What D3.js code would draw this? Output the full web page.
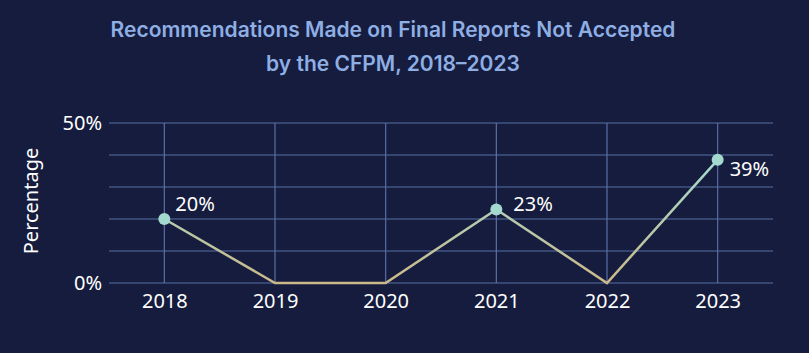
<!DOCTYPE html>
<html><head><meta charset="utf-8">
<script src="https://cdn.jsdelivr.net/npm/d3@7"></script>
<style>
html,body{margin:0;padding:0;background:#151c3d;}
svg{display:block;}
</style></head>
<body><svg id="c" width="809" height="353"></svg>
<script>
const years = ["2018","2019","2020","2021","2022","2023"];
const values = [20, 0, 0, 23, 0, 38.5];
const yTicks = [0, 50];
const gridTicks = [0, 10, 20, 30, 40, 50];
const titleLines = ["Recommendations Made on Final Reports Not Accepted", "by the CFPM, 2018–2023"];

const svg = d3.select("#c");
const W = 809, H = 353;
svg.append("rect").attr("width", W).attr("height", H).attr("fill", "#151c3d");
const m = {l: 109, r: 36, t: 123, b: 70};
const x = d3.scalePoint().domain(years).range([m.l, W - m.r]).padding(0.5);
const y = d3.scaleLinear().domain([0, 50]).range([H - m.b, m.t]);

const font = "'Noto Sans', 'Open Sans', sans-serif";
svg.append("text").attr("x", 393).attr("y", 0)
  .attr("text-anchor", "middle").attr("fill", "#8eaee4")
  .attr("font-family", "Inter, 'Noto Sans', sans-serif").attr("font-weight", 600).attr("font-size", 21)
  .selectAll("tspan").data(titleLines).join("tspan")
  .attr("x", 393).attr("y", (d, i) => 37 + i * 34).text(d => d);

const gc = "#5b6fa6";
const g = svg.append("g");
g.selectAll("line.h").data(gridTicks).join("line").attr("class", "h")
  .attr("x1", m.l).attr("x2", W - m.r).attr("y1", d => y(d)).attr("y2", d => y(d))
  .attr("stroke", gc).attr("stroke-width", 1.2);
g.selectAll("line.v").data(years).join("line").attr("class", "v")
  .attr("x1", d => x(d)).attr("x2", d => x(d)).attr("y1", y(50)).attr("y2", y(0))
  .attr("stroke", gc).attr("stroke-width", 1.2);

const yAxis = d3.axisLeft(y).tickValues(yTicks).tickFormat(d => d + "%").tickSize(0).tickPadding(7);
const ya = svg.append("g").attr("transform", `translate(${m.l},0)`).call(yAxis);
ya.select(".domain").remove();
ya.selectAll("text").attr("fill", "#ffffff").attr("font-size", 20).attr("font-family", font);

const xAxis = d3.axisBottom(x).tickSize(0).tickPadding(11);
const xa = svg.append("g").attr("transform", `translate(0,${y(0)})`).call(xAxis);
xa.select(".domain").remove();
xa.selectAll("text").attr("fill", "#ffffff").attr("font-size", 20).attr("font-family", font);

svg.append("text").attr("transform", `translate(38,${(y(0)+y(50))/2 - 2}) rotate(-90)`)
  .attr("text-anchor", "middle").attr("fill", "#ffffff").attr("font-size", 20)
  .attr("font-family", font).text("Percentage");

const defs = svg.append("defs");
const grad = defs.append("linearGradient").attr("id", "lg")
  .attr("gradientUnits", "userSpaceOnUse").attr("x1", 0).attr("x2", 0)
  .attr("y1", y(0)).attr("y2", y(d3.max(values)));
grad.append("stop").attr("offset", "0%").attr("stop-color", "#cbb98a");
grad.append("stop").attr("offset", "100%").attr("stop-color", "#a2dad0");

const data = years.map((d, i) => ({year: d, v: values[i]}));
svg.append("path").datum(data)
  .attr("d", d3.line().x(d => x(d.year)).y(d => y(d.v)))
  .attr("fill", "none").attr("stroke", "url(#lg)").attr("stroke-width", 2.5);

const nz = data.filter(d => d.v > 0);
// label offsets (style): dx, dy per labelled point
const lblDx = [11, 17, 12];
const lblDy = [-8, 2, 16];
svg.selectAll("circle.pt").data(nz).join("circle").attr("class", "pt")
  .attr("cx", d => x(d.year)).attr("cy", d => y(d.v)).attr("r", 6)
  .attr("fill", "#a4d9d0");
svg.selectAll("text.lbl").data(nz).join("text").attr("class", "lbl")
  .attr("x", (d, i) => x(d.year) + lblDx[i])
  .attr("y", (d, i) => y(d.v) + lblDy[i])
  .attr("fill", "#ffffff").attr("font-size", 20).attr("font-family", font)
  .text(d => Math.round(d.v) + "%");
</script></body></html>
